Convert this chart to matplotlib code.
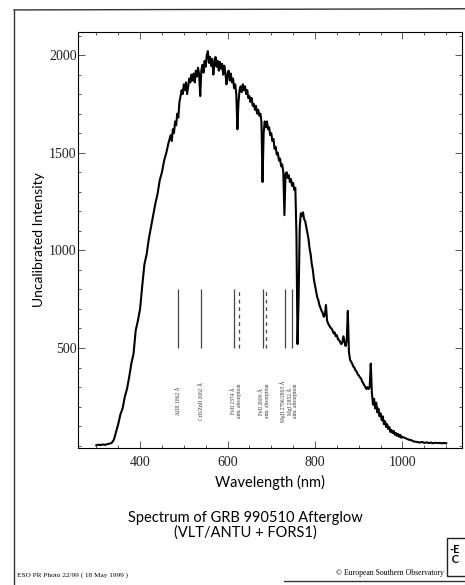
import matplotlib
matplotlib.use("Agg")
import matplotlib.pyplot as plt
from matplotlib.lines import Line2D
from matplotlib.patches import Rectangle
from matplotlib.ticker import MultipleLocator

# spectrum (nm, counts)
wavelength = [300, 305, 310, 315, 320, 325, 330, 335, 340, 345,
              350, 355, 360, 365, 370, 375, 380, 385, 390, 395,
              400, 405, 410, 415, 420, 425, 430, 435, 440, 445,
              450, 455, 460, 465,
              470, 472.5, 475, 477.5, 480, 482.5, 485, 487.5, 490, 492.5,
              495, 497.5, 500, 502.5, 505, 507.5, 510, 512.5, 515, 517.5,
              520, 522.5, 525, 527.5, 530, 532.5, 535, 537.5, 540, 542.5,
              545, 547.5, 550, 552.5, 555, 557.5, 560, 562.5, 565, 567.5,
              570, 572.5, 575, 577.5, 580, 582.5, 585, 587.5, 590, 592.5,
              595, 597.5, 600, 602.5, 605, 607.5, 610, 612.5, 615, 617.5,
              620, 622.5, 625, 627.5, 630, 632.5, 635, 637.5, 640, 642.5,
              645, 647.5, 650, 652.5, 655, 657.5, 660, 662.5, 665, 667.5,
              670, 672.5, 675, 677.5, 680, 682.5, 685, 687.5, 690, 692.5,
              695, 697.5, 700, 702.5, 705, 707.5, 710, 712.5, 715, 717.5,
              720, 722.5, 725, 727.5, 730, 732.5, 735, 737.5, 740, 742.5,
              745, 747.5, 750, 752.5, 755, 757.5, 760, 762.5, 765, 767.5,
              770, 772.5, 775, 777.5, 780, 782.5, 785, 787.5, 790, 792.5,
              795, 797.5, 800, 802.5, 805, 807.5, 810, 812.5, 815, 817.5,
              820, 822.5, 825, 827.5, 830, 832.5, 835, 837.5, 840, 842.5,
              845, 847.5, 850, 852.5, 855, 857.5, 860, 862.5, 865, 867.5,
              870, 872.5, 875, 877.5, 880, 882.5, 885, 887.5, 890, 892.5,
              895, 897.5, 900, 902.5, 905, 907.5, 910, 912.5, 915, 917.5,
              920, 922.5, 925, 927.5, 930, 932.5, 935, 937.5, 940, 942.5,
              945, 947.5, 950, 952.5, 955, 957.5, 960, 962.5, 965, 967.5,
              970, 972.5, 975, 977.5, 980, 982.5, 985, 987.5, 990, 992.5,
              995, 997.5, 1000, 1005, 1010, 1015, 1020, 1025, 1030, 1035,
              1040, 1045, 1050, 1055, 1060, 1065, 1070, 1075, 1080, 1085,
              1090, 1095, 1100]
intensity = [2, 5, 3, 6, 4, 8, 10, 14, 30, 70,
             110, 160, 190, 250, 290, 350, 420, 470, 590, 640,
             700, 820, 930, 980, 1060, 1120, 1180, 1240, 1290, 1360,
             1400, 1460, 1500, 1550,
             1590, 1560, 1620, 1600, 1660, 1640, 1700, 1680, 1760, 1790,
             1820, 1800, 1850, 1820, 1860, 1800, 1840, 1880, 1860, 1900,
             1870, 1905, 1860, 1920, 1890, 1935, 1900, 1790, 1920, 1950,
             1910, 1970, 1940, 2000, 2020, 1960, 1990, 1945, 1980, 1900,
             1960, 1990, 1940, 1970, 1920, 1965, 1930, 1955, 1900, 1945,
             1910, 1850, 1900, 1920, 1870, 1905, 1860, 1880, 1830, 1850,
             1800, 1620, 1760, 1820, 1840, 1810, 1850, 1820, 1840, 1800,
             1820, 1780, 1790, 1760, 1780, 1740, 1750, 1720, 1740, 1700,
             1720, 1690, 1700, 1660, 1350, 1600, 1660, 1630, 1660, 1620,
             1630, 1590, 1600, 1560, 1570, 1520, 1530, 1490, 1500, 1460,
             1470, 1430, 1440, 1400, 1180, 1390, 1400, 1370, 1385, 1350,
             1365, 1330, 1345, 1310, 1320, 1080, 520, 760, 1120, 1190,
             1175, 1195, 1160, 1150, 1120, 1090, 1060, 1010, 980, 930,
             900, 850, 820, 790, 760, 745, 720, 705, 690, 680,
             660, 670, 720, 640, 625, 615, 605, 600, 590, 575,
             580, 560, 565, 545, 540, 530, 520, 530, 560, 530,
             510, 540, 690, 480, 440, 430, 420, 405, 400, 385,
             380, 365, 360, 350, 345, 330, 320, 310, 300, 290,
             300, 290, 300, 420, 270, 210, 240, 190, 220, 170,
             190, 150, 165, 130, 150, 110, 125, 95, 110, 85,
             95, 70, 80, 65, 75, 55, 65, 50, 60, 45,
             55, 40, 45, 40, 35, 30, 28, 22, 20, 18,
             16, 19, 14, 17, 13, 16, 12, 15, 13, 14,
             12, 14, 12]

# identified absorption lines
line_nm = [486, 539, 614, 680, 731, 747]
telluric_nm = [627, 689]
line_top = 800
line_bottom = 500
label_nm = [486, 539, 620, 684, 740]
label_text = ["AlIII 1862 Å",
              "CrII/ZnII 2062 Å",
              "FeII 2374 Å\natm. absorption",
              "FeII 2600 Å\natm. absorption",
              "MgII 2796/2803 Å\nMgI 2852 Å\natm. absorption"]

serif = "Liberation Serif"
sans = "Lato"

fig = plt.figure(figsize=(4.65, 5.85), dpi=100)
ax = fig.add_axes([0.1677, 0.2342, 0.8258, 0.7111])

ax.plot(wavelength, intensity, color="black", linewidth=1.5)
ax.vlines(line_nm, line_bottom, line_top, color="#444444", linewidth=0.9)
ax.vlines(telluric_nm, line_bottom, line_top, color="#444444", linewidth=0.9,
          linestyles=(0, (3, 3)))
for x, t in zip(label_nm, label_text):
    ax.text(x, 228, t, rotation=90, ha="center", va="center", fontsize=4.0,
            family=serif, color="#333333", linespacing=1.1)

ax.set_xlim(258, 1136)
ax.set_ylim(-12, 2118)
ax.xaxis.set_major_locator(MultipleLocator(200))
ax.xaxis.set_minor_locator(MultipleLocator(50))
ax.yaxis.set_minor_locator(MultipleLocator(100))
ax.set_yticks([500, 1000, 1500, 2000])
ax.tick_params(which="both", direction="in", top=True, right=True, width=0.7,
               color="#555555")
ax.tick_params(which="major", length=5, labelsize=10, pad=6)
ax.tick_params(which="minor", length=2.5)
ax.tick_params(axis="y", pad=1)
for lab in ax.get_xticklabels() + ax.get_yticklabels():
    lab.set_family(serif)
    lab.set_color("#222222")
for s in ax.spines.values():
    s.set_linewidth(0.8)

ax.set_xlabel("Wavelength (nm)", family=sans, fontsize=10.5, labelpad=4)
ax.set_ylabel("Uncalibrated Intensity", family=sans, fontsize=10, labelpad=3)

fig.text(0.527, 0.102, "Spectrum of GRB 990510 Afterglow\n(VLT/ANTU + FORS1)",
         ha="center", va="center", family=sans, fontsize=10.5, linespacing=1.0)

# scanned page frame and credits
fig.add_artist(Line2D([0.030, 0.030], [0.0, 0.983], color="#333333", lw=1.0))
fig.add_artist(Line2D([0.030, 1.0], [0.983, 0.985], color="#333333", lw=1.0))
fig.add_artist(Line2D([0.61, 1.0], [0.006, 0.006], color="#333333", lw=1.0))
fig.add_artist(Rectangle((0.962, 0.015), 0.05, 0.065, transform=fig.transFigure,
                         fill=False, edgecolor="#222222", lw=1.0))
fig.text(0.966, 0.052, "-E\n C", ha="left", va="center", family=sans,
         fontsize=8, fontweight="bold", linespacing=0.9)
fig.text(0.036, 0.017, "ESO PR Photo 22/99 ( 18 May 1999 )", ha="left",
         va="center", family=serif, fontsize=5.2)
fig.text(0.955, 0.021, "© European Southern Observatory", ha="right",
         va="center", family=serif, fontsize=5.6)

fig.savefig("out.png", dpi=100)
